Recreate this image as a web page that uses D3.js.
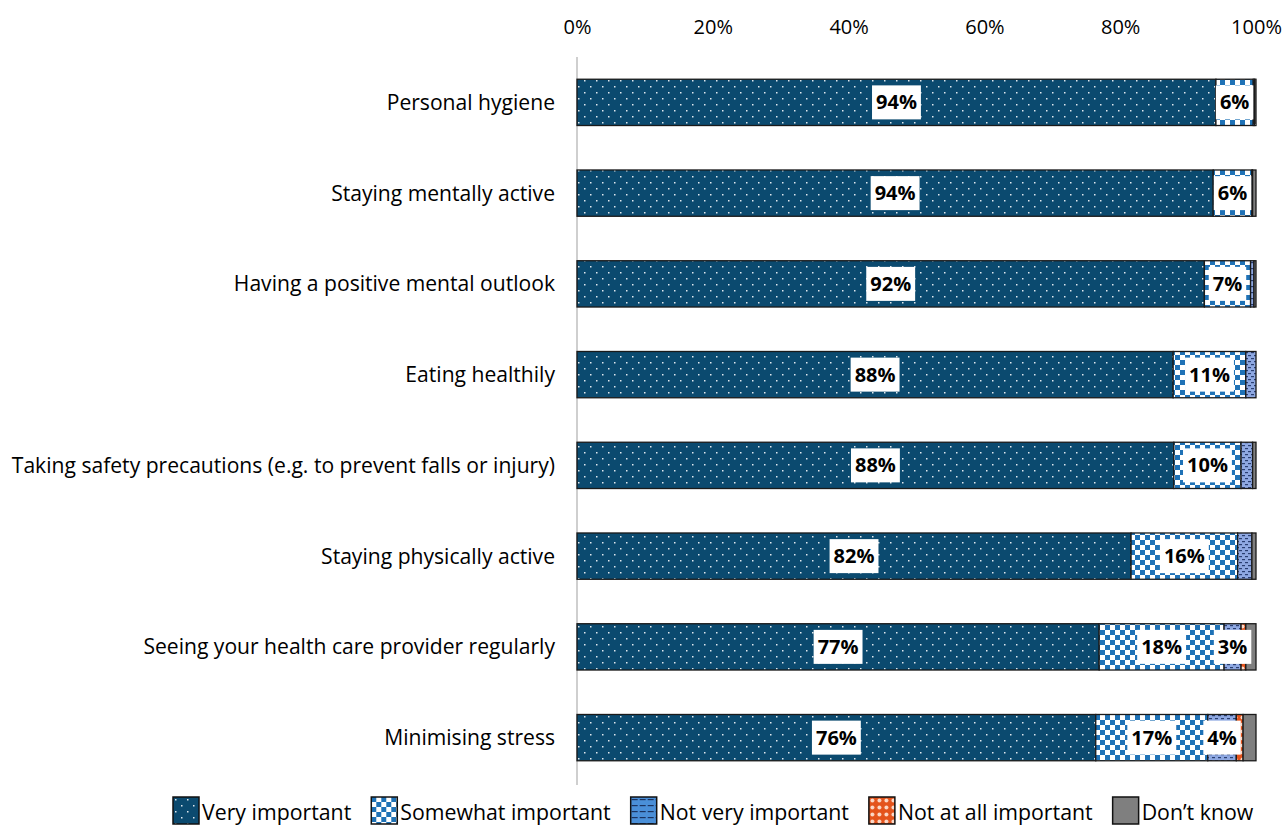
<!DOCTYPE html>
<html>
<head>
<meta charset="utf-8">
<script src="https://cdn.jsdelivr.net/npm/d3@7"></script>
<style>
body { margin: 0; background: #fff; }
svg { display: block; font-family: "Open Sans", sans-serif; }
.tick text { fill: #000; }
</style>
</head>
<body>
<svg width="1286" height="825"></svg>
<script>
// categories top to bottom
var categories = [
	"Personal hygiene",
	"Staying mentally active",
	"Having a positive mental outlook",
	"Eating healthily",
	"Taking safety precautions (e.g. to prevent falls or injury)",
	"Staying physically active",
	"Seeing your health care provider regularly",
	"Minimising stress"
]
var seriesNames = ["Very important", "Somewhat important", "Not very important", "Not at all important", "Don\u2019t know"]

// % per series, one entry per category
var veryImportant     = [94.1, 93.7, 92.4, 87.8, 87.9, 81.6, 76.9, 76.4]
var somewhatImportant = [5.5, 5.7, 6.8, 10.7, 9.9, 15.7, 18.4, 16.5]
var notVeryImportant  = [0.2, 0.1, 0.5, 1.5, 1.7, 2.1, 2.5, 4.2]
var notAtAllImportant = [0, 0, 0, 0, 0, 0, 0.7, 1.0]
var dontKnow          = [0.2, 0.5, 0.3, 0, 0.5, 0.6, 1.5, 1.9]

var tickValues = [0, 20, 40, 60, 80, 100]

var series = [veryImportant, somewhatImportant, notVeryImportant, notAtAllImportant, dontKnow]

var svg = d3.select("svg")
var defs = svg.append("defs")

// patterns roughly like the excel fills
var p0 = defs.append("pattern").attr("id", "pat0").attr("patternUnits", "userSpaceOnUse").attr("width", 12).attr("height", 12)
p0.append("rect").attr("width", 12).attr("height", 12).attr("fill", "#0b4a6f")
p0.append("rect").attr("x", 2).attr("y", 2).attr("width", 1.5).attr("height", 1.5).attr("fill", "#dfe8ee")
p0.append("rect").attr("x", 8).attr("y", 8).attr("width", 1.5).attr("height", 1.5).attr("fill", "#dfe8ee")

var p1 = defs.append("pattern").attr("id", "pat1").attr("patternUnits", "userSpaceOnUse").attr("width", 10).attr("height", 10)
p1.append("rect").attr("width", 10).attr("height", 10).attr("fill", "#fff")
p1.append("rect").attr("width", 5).attr("height", 5).attr("fill", "#1f72b6")
p1.append("rect").attr("x", 5).attr("y", 5).attr("width", 5).attr("height", 5).attr("fill", "#1f72b6")

var p2 = defs.append("pattern").attr("id", "pat2").attr("patternUnits", "userSpaceOnUse").attr("width", 6).attr("height", 6)
p2.append("rect").attr("width", 6).attr("height", 6).attr("fill", "#8ea8e2")
p2.append("rect").attr("x", 0).attr("y", 1).attr("width", 3).attr("height", 1.2).attr("fill", "#2a3f72")
p2.append("rect").attr("x", 3).attr("y", 4).attr("width", 3).attr("height", 1.2).attr("fill", "#2a3f72")

var p3 = defs.append("pattern").attr("id", "pat3").attr("patternUnits", "userSpaceOnUse").attr("width", 7).attr("height", 7)
p3.append("rect").attr("width", 7).attr("height", 7).attr("fill", "#e4531b")
p3.append("circle").attr("cx", 3.5).attr("cy", 3.5).attr("r", 2).attr("fill", "#fbd9c8")

var fills = ["url(#pat0)", "url(#pat1)", "url(#pat2)", "url(#pat3)", "#7f7f7f"]
var legendFills = ["url(#pat0)", "url(#pat1)", "url(#legpat2)", "url(#pat3)", "#7f7f7f"]

// legend version of "not very important" looks bluer
var lp = defs.append("pattern").attr("id", "legpat2").attr("patternUnits", "userSpaceOnUse").attr("width", 8).attr("height", 6)
lp.append("rect").attr("width", 8).attr("height", 6).attr("fill", "#4a8fd8")
lp.append("rect").attr("x", 1).attr("y", 2).attr("width", 6).attr("height", 1.2).attr("fill", "#1b3360")

var x = d3.scaleLinear().domain([0, 100]).range([577, 1256])
var y = d3.scaleBand().domain(categories).range([57, 783]).paddingInner(0.49).paddingOuter(0.245)

// top axis
svg.append("g")
	.attr("transform", "translate(0,37)")
	.call(d3.axisTop(x).tickValues(tickValues).tickSize(0).tickFormat(d => d + "%"))
	.call(g => g.select(".domain").remove())
	.selectAll("text").style("font-size", "20px").attr("font-family", "\"Open Sans\", sans-serif")

// vertical axis line
svg.append("line")
	.attr("x1", x(0)).attr("x2", x(0))
	.attr("y1", 57).attr("y2", 785)
	.attr("stroke", "#bfbfbf").attr("stroke-width", 1.5)

// category labels
svg.append("g").selectAll("text").data(categories).enter().append("text")
	.attr("x", 555)
	.attr("y", d => y(d) + y.bandwidth() / 2)
	.attr("dy", "0.35em")
	.attr("text-anchor", "end")
	.style("font-size", "21.1px")
	.text(d => d)

// stacked segments
var segs = []
categories.forEach(function(c, i) {
	var acc = 0
	series.forEach(function(s, j) {
		segs.push({ cat: c, k: j, x0: acc, x1: acc + s[i], v: s[i] })
		acc += s[i]
	})
})

svg.append("g").selectAll("rect").data(segs.filter(d => d.v > 0)).enter().append("rect")
	.attr("x", d => x(d.x0))
	.attr("y", d => y(d.cat))
	.attr("width", d => x(d.x1) - x(d.x0))
	.attr("height", y.bandwidth())
	.attr("fill", d => fills[d.k])
	.attr("stroke", "#1a1a1a")
	.attr("stroke-width", 1.3)

// value labels in white boxes
var lab = svg.append("g").selectAll("g").data(segs.filter(d => d.v >= 2.5)).enter().append("g")
	.attr("transform", d => "translate(" + x((d.x0 + d.x1) / 2) + "," + (y(d.cat) + y.bandwidth() / 2) + ")")
lab.append("rect").attr("fill", "#fff")
lab.append("text")
	.attr("text-anchor", "middle")
	.attr("dy", "0.35em")
	.style("font-size", "20px")
	.style("font-weight", "bold")
	.text(d => Math.round(d.v) + "%")
lab.each(function() {
	var g = d3.select(this)
	var w = g.select("text").node().getComputedTextLength()
	g.select("rect").attr("x", -w / 2 - 4).attr("y", -17).attr("width", w + 8).attr("height", 34)
})

// legend
var lx = 173
var leg = svg.append("g")
seriesNames.forEach(function(n, i) {
	var g = leg.append("g").attr("transform", "translate(" + lx + ",797)")
	g.append("rect").attr("width", 26).attr("height", 27)
		.attr("fill", legendFills[i]).attr("stroke", "#111").attr("stroke-width", 1.5)
	var t = g.append("text").attr("x", 29).attr("y", 23).style("font-size", "21.3px").text(n)
	lx += 29 + t.node().getComputedTextLength() + 20
})
</script>
</body>
</html>
